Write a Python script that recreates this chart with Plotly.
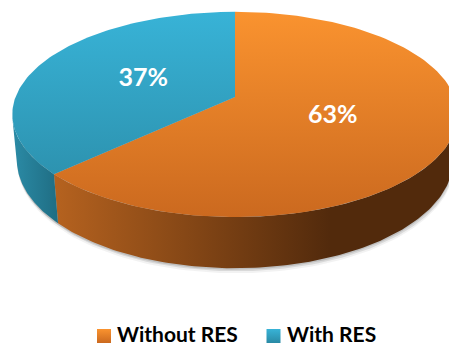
import numpy as np
import plotly.graph_objects as go

# Share of cases, drawn clockwise from 12 o'clock
labels = ["Without RES", "With RES"]
values = [63, 37]

# Face colours: (light, dark) for the top gradient, (left, right) for the rim
top_colors = [("#fa932f", "#cb691f"), ("#38b3d7", "#2a8aa5")]
rim_colors = [("#b5621f", "#522a0c"), ("#2b8ba6", "#1f6d83")]

# Camera set-up for the tilted disc
CX, CY = 235.0, 97.0          # screen position of the pie centre
TILT = np.radians(27.0)
DIST = 5.24
FOCAL = 1150.0
THICK = 0.235
S, C = np.sin(TILT), np.cos(TILT)


def project(X, Y, Z):
    depth = -Y * S + Z * C + DIST
    up = Y * C + Z * S
    return CX + FOCAL * X / depth, CY - FOCAL * up / depth


def arc(a0, a1, y, n=120):
    phi = np.radians(np.linspace(a0, a1, n))
    return project(np.sin(phi), y, np.cos(phi))


fig = go.Figure()

# soft drop shadow below the disc
for dx, dy, alpha in [(1, 5, 0.05), (1, 3, 0.10), (0, 1.5, 0.12)]:
    bx, by = arc(0, 360, -THICK, 240)
    fig.add_trace(go.Scatter(x=bx + dx, y=by + dy, mode="lines", fill="toself",
                             line=dict(width=0), fillcolor=f"rgba(0,0,0,{alpha})",
                             hoverinfo="skip", showlegend=False))

total = sum(values)
bounds = np.concatenate([[0], np.cumsum(values) / total * 360.0])

# rim is visible where the outward normal faces the camera
vis_lim = np.degrees(np.arccos(-1.0 / (DIST * C)))
vis_lo, vis_hi = vis_lim, 360.0 - vis_lim

for i in range(len(values)):
    lo, hi = max(bounds[i], vis_lo), min(bounds[i + 1], vis_hi)
    if hi <= lo:
        continue
    tx, ty = arc(lo, hi, 0.0)
    bx, by = arc(hi, lo, -THICK)
    xs = np.concatenate([tx, bx])
    ys = np.concatenate([ty, by])
    fig.add_trace(go.Scatter(
        x=xs, y=ys, mode="lines", fill="toself", line=dict(width=0),
        fillgradient=dict(type="horizontal",
                          colorscale=[[0, rim_colors[i][0]], [1, rim_colors[i][1]]],
                          start=float(xs.min()) if i == 1 else 55.0,
                          stop=float(xs.max()) if i == 1 else 330.0),
        hoverinfo="skip", showlegend=False))

for i in range(len(values)):
    ax_, ay_ = arc(bounds[i], bounds[i + 1], 0.0)
    cx0, cy0 = project(0.0, 0.0, 0.0)
    xs = np.concatenate([[cx0], ax_, [cx0]])
    ys = np.concatenate([[cy0], ay_, [cy0]])
    fig.add_trace(go.Scatter(
        x=xs, y=ys, mode="lines", fill="toself", line=dict(width=0),
        fillgradient=dict(type="vertical",
                          colorscale=[[0, top_colors[i][0]], [1, top_colors[i][1]]],
                          start=11.0, stop=218.0),
        hoverinfo="skip", showlegend=False))

# percentage labels on the top face
lx, ly, lt = [], [], []
for i, v in enumerate(values):
    mid = np.radians((bounds[i] + bounds[i + 1]) / 2)
    px, py = project(0.47 * np.sin(mid), 0.0, 0.47 * np.cos(mid))
    lx.append(px)
    ly.append(py + 1)
    lt.append(f"{round(v / total * 100)}%")
fig.add_trace(go.Scatter(x=lx, y=ly, mode="text", text=lt,
                         textfont=dict(family="Lato", size=25, color="white", weight="bold"),
                         hoverinfo="skip", showlegend=False))

# legend row
leg_x = [104, 273.5]
leg_text_x = [116, 286]
leg_y = 336
for i, name in enumerate(labels):
    fig.add_trace(go.Scatter(
        x=[leg_x[i]], y=[leg_y], mode="markers",
        marker=dict(symbol="square", size=14, color=top_colors[i][0],
                    gradient=dict(type="vertical", color=top_colors[i][1]),
                    line=dict(width=0)),
        hoverinfo="skip", showlegend=False))
    fig.add_annotation(x=leg_text_x[i], y=333, text=name, showarrow=False,
                       xanchor="left", yanchor="middle", xref="x", yref="y",
                       borderpad=0,
                       font=dict(family="Lato", size=21, color="black", weight="bold"))

fig.update_layout(
    width=449, height=346,
    margin=dict(l=0, r=0, t=0, b=0),
    paper_bgcolor="white", plot_bgcolor="white",
    xaxis=dict(range=[0, 449], visible=False, fixedrange=True),
    yaxis=dict(range=[346, 0], visible=False, fixedrange=True),
    hovermode=False,
)

fig.write_html("out.html", config={"displayModeBar": False})
